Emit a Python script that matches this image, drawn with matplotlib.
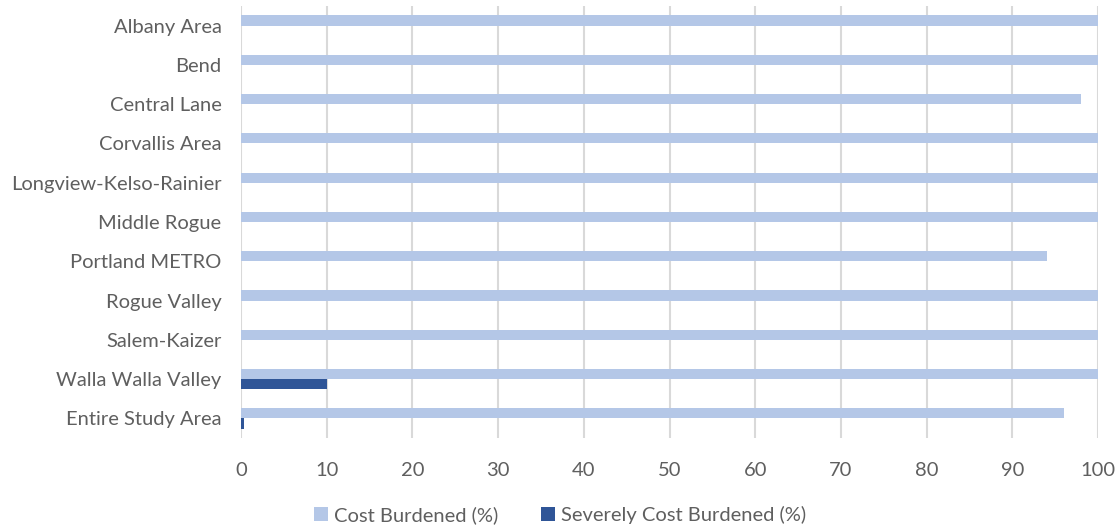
import matplotlib
matplotlib.use("Agg")
import matplotlib.pyplot as plt
import numpy as np

categories = ["Albany Area", "Bend", "Central Lane", "Corvallis Area",
              "Longview-Kelso-Rainier", "Middle Rogue", "Portland METRO",
              "Rogue Valley", "Salem-Kaizer", "Walla Walla Valley",
              "Entire Study Area"]
cost_burdened = [100, 100, 98, 100, 100, 100, 94, 100, 100, 100, 96]
severely_cost_burdened = [0, 0, 0, 0, 0, 0, 0, 0, 0, 10, 0.3]
series_names = ["Cost Burdened (%)", "Severely Cost Burdened (%)"]
x_ticks = [0, 10, 20, 30, 40, 50, 60, 70, 80, 90, 100]

plt.rcParams['font.family'] = ['Lato', 'DejaVu Sans']
text_color = "#5F5F5F"
fs = 14.5

fig = plt.figure(figsize=(11.18, 5.31), dpi=100)
ax = fig.add_axes([241/1118, 1-438/531, (1098-241)/1118, (438-6)/531])

n = len(categories)
y = np.arange(n)
h = 0.26
ax.barh(y - h/2, cost_burdened, height=h, color="#B4C7E7", label=series_names[0], zorder=3)
ax.barh(y + h/2, severely_cost_burdened, height=h, color="#2F5597", label=series_names[1], zorder=3)

ax.set_ylim(n - 0.5, -0.5)
ax.set_xlim(0, 100)
ax.set_yticks(y)
ax.set_yticklabels(categories, fontsize=fs, color=text_color)
ax.set_xticks(x_ticks)
ax.set_xticklabels([str(t) for t in x_ticks], fontsize=fs, color=text_color)
ax.tick_params(axis='both', length=0)
ax.tick_params(axis='x', pad=17)
ax.tick_params(axis='y', pad=14)
ax.grid(axis='x', color="#D9D9D9", linewidth=1.5, zorder=0)
for s in ax.spines.values():
    s.set_visible(False)

leg = fig.legend(loc='center', bbox_to_anchor=(560/1118, 1-515/531), ncol=2,
                 frameon=False, prop={'size': fs},
                 handlelength=0.7, handleheight=0.7,
                 handletextpad=0.3, columnspacing=2.1)
for t in leg.get_texts():
    t.set_color(text_color)

fig.savefig("out.png", dpi=100)
